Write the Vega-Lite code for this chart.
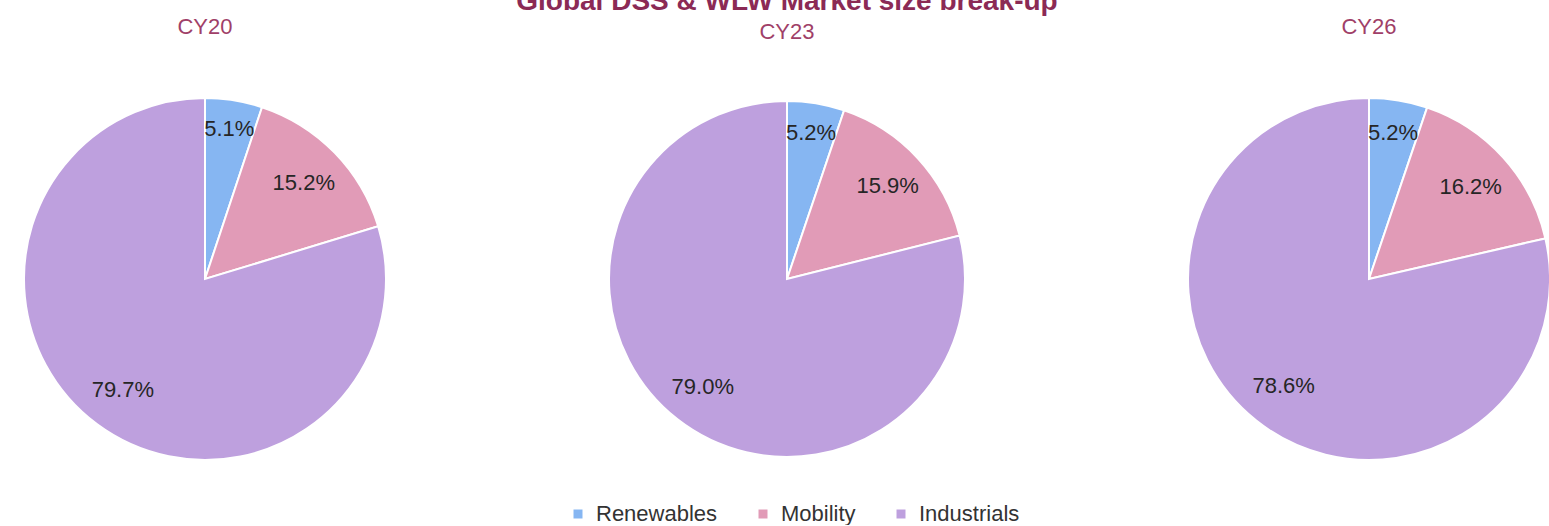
{
  "$schema": "https://vega.github.io/schema/vega-lite/v6.json",
  "padding": {"left": 5, "top": -12, "right": 0, "bottom": 0},
  "background": "white",
  "title": {"text": "Global DSS & WLW Market size break-up", "fontSize": 28, "fontWeight": "bold", "color": "#8b2a55", "font": "Liberation Sans", "anchor": "middle", "offset": 0},
  "datasets": {
    "pies": [
      {"year": "CY20", "segment": "Renewables", "idx": 1, "share": 0.051},
      {"year": "CY20", "segment": "Mobility", "idx": 2, "share": 0.152},
      {"year": "CY20", "segment": "Industrials", "idx": 3, "share": 0.797},
      {"year": "CY23", "segment": "Renewables", "idx": 1, "share": 0.052},
      {"year": "CY23", "segment": "Mobility", "idx": 2, "share": 0.159},
      {"year": "CY23", "segment": "Industrials", "idx": 3, "share": 0.790},
      {"year": "CY26", "segment": "Renewables", "idx": 1, "share": 0.052},
      {"year": "CY26", "segment": "Mobility", "idx": 2, "share": 0.162},
      {"year": "CY26", "segment": "Industrials", "idx": 3, "share": 0.786}
    ]
  },
  "data": {"name": "pies"},
  "spacing": 182,
  "bounds": "flush",
  "hconcat": [
    {
      "title": {"text": "CY20", "offset": 55},
      "width": 400, "height": 360,
      "transform": [{"filter": "datum.year === 'CY20'"}],
      "layer": [
        {"mark": {"type": "arc", "outerRadius": 181, "stroke": "#ffffff", "strokeWidth": 2},
         "encoding": {
           "theta": {"field": "share", "type": "quantitative", "stack": true},
           "order": {"field": "idx", "type": "quantitative"},
           "color": {"field": "segment", "type": "nominal",
             "scale": {"domain": ["Renewables", "Mobility", "Industrials"], "range": ["#86b6f2", "#e19bb7", "#bea0de"]},
             "legend": {"orient": "none", "legendX": 562, "legendY": 404, "direction": "horizontal", "title": null}}
         }},
        {"mark": {"type": "text", "radius": 152, "fontSize": 22, "font": "Liberation Sans", "color": "#262626"},
         "encoding": {
           "theta": {"field": "share", "type": "quantitative", "stack": true},
           "order": {"field": "idx", "type": "quantitative"},
           "detail": {"field": "segment", "type": "nominal"},
           "text": {"condition": {"test": "datum.segment === 'Renewables'", "field": "share", "type": "quantitative", "format": ".1%"}, "value": ""}
         }},
        {"mark": {"type": "text", "radius": 138, "fontSize": 22, "font": "Liberation Sans", "color": "#262626"},
         "encoding": {
           "theta": {"field": "share", "type": "quantitative", "stack": true},
           "order": {"field": "idx", "type": "quantitative"},
           "detail": {"field": "segment", "type": "nominal"},
           "text": {"condition": {"test": "datum.segment !== 'Renewables'", "field": "share", "type": "quantitative", "format": ".1%"}, "value": ""}
         }}
      ]
    },
    {
      "title": {"text": "CY23", "offset": 53},
      "width": 400, "height": 360,
      "transform": [{"filter": "datum.year === 'CY23'"}],
      "layer": [
        {"mark": {"type": "arc", "outerRadius": 178, "stroke": "#ffffff", "strokeWidth": 2},
         "encoding": {
           "theta": {"field": "share", "type": "quantitative", "stack": true},
           "order": {"field": "idx", "type": "quantitative"},
           "color": {"field": "segment", "type": "nominal",
             "scale": {"domain": ["Renewables", "Mobility", "Industrials"], "range": ["#86b6f2", "#e19bb7", "#bea0de"]},
             "legend": null}
         }},
        {"mark": {"type": "text", "radius": 148, "fontSize": 22, "font": "Liberation Sans", "color": "#262626"},
         "encoding": {
           "theta": {"field": "share", "type": "quantitative", "stack": true},
           "order": {"field": "idx", "type": "quantitative"},
           "detail": {"field": "segment", "type": "nominal"},
           "text": {"condition": {"test": "datum.segment === 'Renewables'", "field": "share", "type": "quantitative", "format": ".1%"}, "value": ""}
         }},
        {"mark": {"type": "text", "radius": 137, "fontSize": 22, "font": "Liberation Sans", "color": "#262626"},
         "encoding": {
           "theta": {"field": "share", "type": "quantitative", "stack": true},
           "order": {"field": "idx", "type": "quantitative"},
           "detail": {"field": "segment", "type": "nominal"},
           "text": {"condition": {"test": "datum.segment !== 'Renewables'", "field": "share", "type": "quantitative", "format": ".1%"}, "value": ""}
         }}
      ]
    },
    {
      "title": {"text": "CY26", "offset": 55},
      "width": 400, "height": 360,
      "transform": [{"filter": "datum.year === 'CY26'"}],
      "layer": [
        {"mark": {"type": "arc", "outerRadius": 181, "stroke": "#ffffff", "strokeWidth": 2},
         "encoding": {
           "theta": {"field": "share", "type": "quantitative", "stack": true},
           "order": {"field": "idx", "type": "quantitative"},
           "color": {"field": "segment", "type": "nominal",
             "scale": {"domain": ["Renewables", "Mobility", "Industrials"], "range": ["#86b6f2", "#e19bb7", "#bea0de"]},
             "legend": null}
         }},
        {"mark": {"type": "text", "radius": 148, "fontSize": 22, "font": "Liberation Sans", "color": "#262626"},
         "encoding": {
           "theta": {"field": "share", "type": "quantitative", "stack": true},
           "order": {"field": "idx", "type": "quantitative"},
           "detail": {"field": "segment", "type": "nominal"},
           "text": {"condition": {"test": "datum.segment === 'Renewables'", "field": "share", "type": "quantitative", "format": ".1%"}, "value": ""}
         }},
        {"mark": {"type": "text", "radius": 137, "fontSize": 22, "font": "Liberation Sans", "color": "#262626"},
         "encoding": {
           "theta": {"field": "share", "type": "quantitative", "stack": true},
           "order": {"field": "idx", "type": "quantitative"},
           "detail": {"field": "segment", "type": "nominal"},
           "text": {"condition": {"test": "datum.segment !== 'Renewables'", "field": "share", "type": "quantitative", "format": ".1%"}, "value": ""}
         }}
      ]
    }
  ],
  "resolve": {"scale": {"color": "shared"}},
  "config": {
    "view": {"stroke": null},
    "font": "Liberation Sans",
    "title": {"fontSize": 22, "font": "Liberation Sans", "fontWeight": "normal", "color": "#a03f68"},
    "legend": {"symbolType": "square", "symbolSize": 81, "symbolStrokeWidth": 0, "labelFontSize": 22, "labelFont": "Liberation Sans", "labelColor": "#333333", "columnPadding": 34, "labelOffset": 7}
  }
}
